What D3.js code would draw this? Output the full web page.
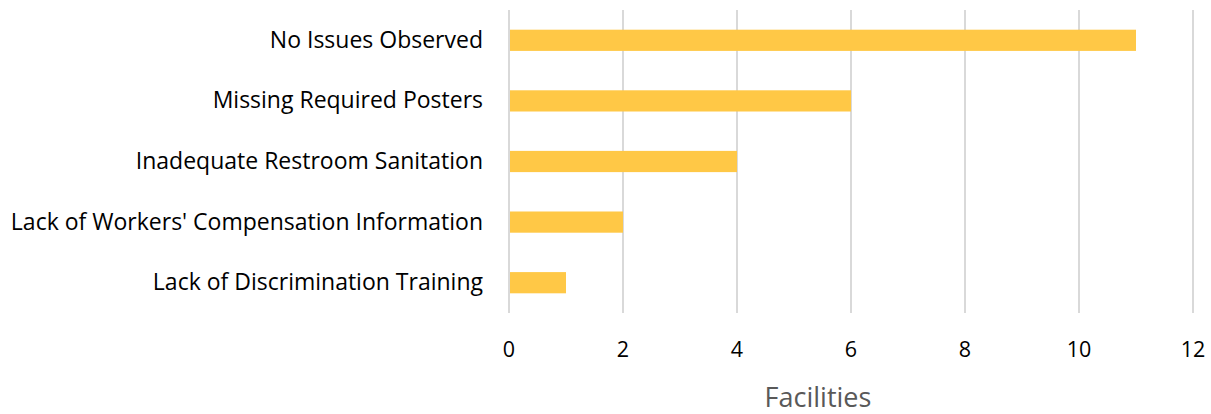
<!DOCTYPE html>
<html><head><meta charset="utf-8">
<script src="https://cdn.jsdelivr.net/npm/d3@7"></script>
<style>body{margin:0;background:#fff;} text{font-family:"Open Sans", sans-serif;}</style>
</head><body>
<svg id="c" width="1211" height="414"></svg>
<script>
const categories = ["No Issues Observed","Missing Required Posters","Inadequate Restroom Sanitation","Lack of Workers' Compensation Information","Lack of Discrimination Training"];
const values = [11,6,4,2,1];
const tickValues = [0,2,4,6,8,10,12];
const axisTitle = "Facilities";

const svg = d3.select("#c");
const x = d3.scaleLinear().domain([0,12]).range([509,1193]);
const y = d3.scaleBand().domain(categories).range([10,313]).paddingInner(0.65).paddingOuter(0.325);

svg.append("g").selectAll("line").data(tickValues).join("line")
  .attr("x1",d=>x(d)).attr("x2",d=>x(d)).attr("y1",10).attr("y2",313)
  .attr("stroke","#d9d9d9").attr("stroke-width",2);

svg.append("g").selectAll("rect").data(values).join("rect")
  .attr("x",x(0)+1).attr("y",(d,i)=>y(categories[i]))
  .attr("width",d=>x(d)-x(0)-1).attr("height",y.bandwidth())
  .attr("fill","#FFC846");

svg.append("g").selectAll("text").data(categories).join("text")
  .attr("x",483).attr("y",d=>y(d)+y.bandwidth()/2).attr("dy","0.33em")
  .attr("text-anchor","end").attr("font-size",23).attr("fill","#000").text(d=>d);

svg.append("g").selectAll("text").data(tickValues).join("text")
  .attr("x",d=>x(d)).attr("y",357)
  .attr("text-anchor","middle").attr("font-size",21.5).attr("fill","#000").text(d=>d);

svg.append("text").attr("x",818).attr("y",407)
  .attr("text-anchor","middle").attr("font-size",27).attr("fill","#595959").text(axisTitle);
</script>
</body></html>
